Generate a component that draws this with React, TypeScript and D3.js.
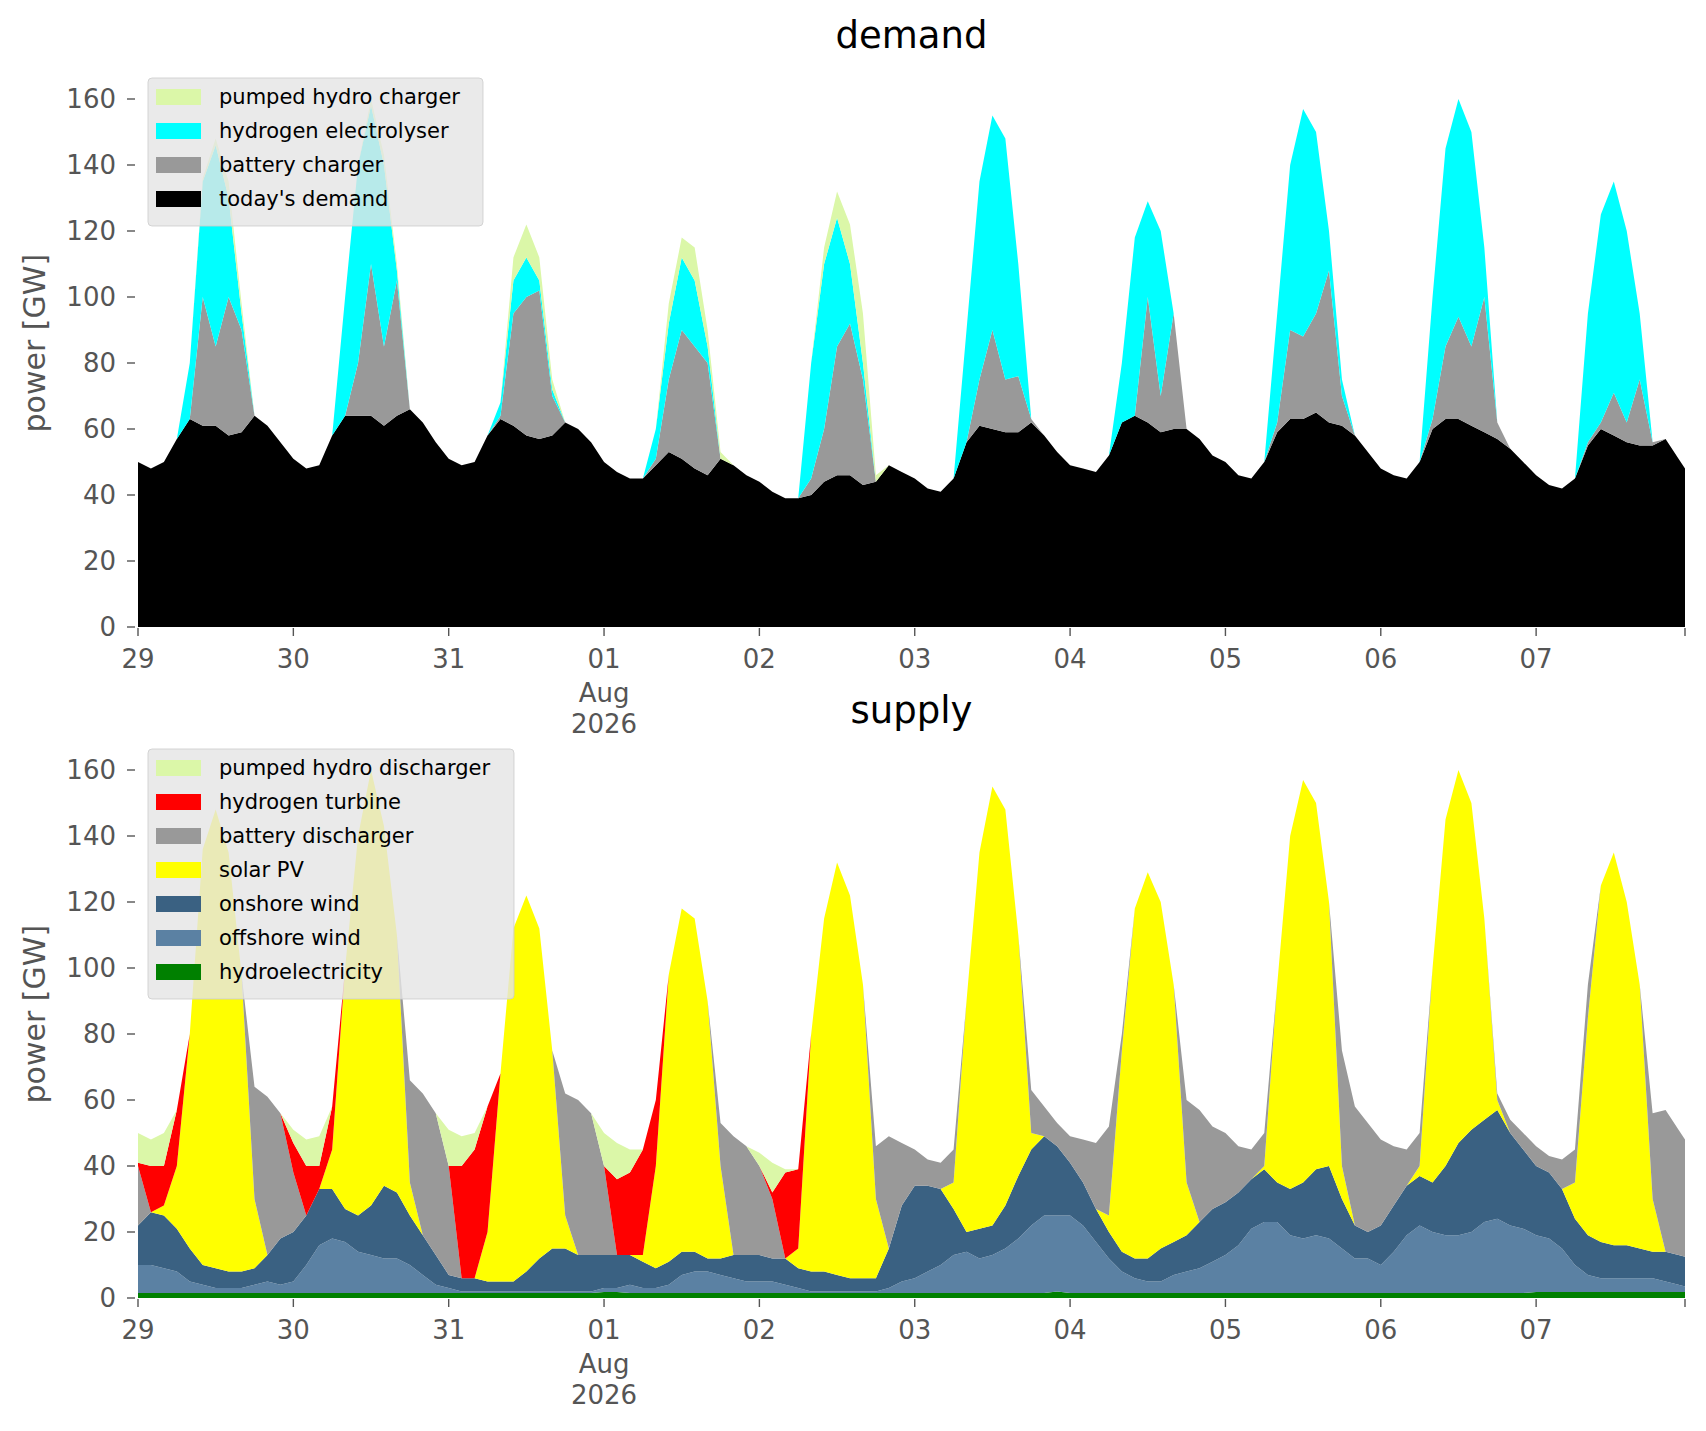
import React from "react";
import * as d3 from "d3";

// 2-hourly samples from 29 Jul 00:00 (12 per day) + one end point
const demandBase = [
  50,48,50,57,63,61,61,58,59,64,61,56,
  51,48,49,58,64,64,64,61,64,66,62,56,
  51,49,50,58,63,61,58,57,58,62,60,56,
  50,47,45,45,49,53,51,48,46,51,49,46,
  44,41,39,39,40,44,46,46,43,44,49,47,
  45,42,41,45,56,61,60,59,59,62,58,53,
  49,48,47,52,62,64,62,59,60,60,57,52,
  50,46,45,50,59,63,63,65,62,61,58,53,
  48,46,45,50,60,63,63,61,59,57,54,50,
  46,43,42,45,55,60,58,56,55,55,57,51, 45];
const batteryChargerTop = [
  50,48,50,57,63,100,85,100,90,64,61,56,
  51,48,49,58,64,80,110,85,105,66,62,56,
  51,49,50,58,64,95,100,102,70,62,60,56,
  50,47,45,45,51,75,90,85,80,51,49,46,
  44,41,39,39,45,60,85,92,75,44,49,47,
  45,42,41,45,56,75,90,75,76,63,58,53,
  49,48,47,52,62,64,100,70,95,60,57,52,
  50,46,45,50,62,90,88,95,108,70,58,53,
  48,46,45,50,63,85,94,85,100,62,54,50,
  46,43,42,45,56,62,71,62,75,56,57,51, 45];
const electrolyserTop = [
  50,48,50,57,80,135,146,130,95,64,61,56,
  51,48,49,58,100,140,158,140,108,66,62,56,
  51,49,50,58,68,105,112,105,72,62,60,56,
  50,47,45,45,60,92,112,105,85,51,49,46,
  44,41,39,39,80,110,124,110,80,44,49,47,
  45,42,41,45,90,135,155,148,110,63,58,53,
  49,48,47,52,80,118,129,120,95,60,57,52,
  50,46,45,50,95,140,157,150,120,75,58,53,
  48,46,45,50,100,145,160,150,115,62,54,50,
  46,43,42,45,95,125,135,120,95,56,57,51, 45];
const pumpedChargerTop = [
  50,48,50,57,80,136,148,135,98,64,61,56,
  51,48,49,58,100,140,160,143,110,66,62,56,
  51,49,50,58,68,112,122,112,75,62,60,56,
  50,47,45,45,60,98,118,115,90,53,49,46,
  44,41,39,39,80,115,132,122,95,46,49,47,
  45,42,41,45,90,135,155,148,110,63,58,53,
  49,48,47,52,80,118,129,120,95,60,57,52,
  50,46,45,50,95,140,157,150,120,75,58,53,
  48,46,45,50,100,145,160,150,115,62,54,50,
  46,43,42,45,95,125,135,120,95,56,57,51, 45];

const hydroTop = [
  1.5,1.5,1.5,1.5,1.5,1.5,1.5,1.5,1.5,1.5,1.5,1.5,
  1.5,1.5,1.5,1.5,1.5,1.5,1.5,1.5,1.5,1.5,1.5,1.5,
  1.5,1.5,1.5,1.5,1.5,1.5,1.5,1.5,1.5,1.5,1.5,1.5,
  1.8,1.8,1.5,1.5,1.5,1.5,1.5,1.5,1.5,1.5,1.5,1.5,
  1.5,1.5,1.5,1.5,1.5,1.5,1.5,1.5,1.5,1.5,1.5,1.5,
  1.5,1.5,1.5,1.5,1.5,1.5,1.5,1.5,1.5,1.5,1.5,2,
  1.5,1.5,1.5,1.5,1.5,1.5,1.5,1.5,1.5,1.5,1.5,1.5,
  1.5,1.5,1.5,1.5,1.5,1.5,1.5,1.5,1.5,1.5,1.5,1.5,
  1.5,1.5,1.5,1.5,1.5,1.5,1.5,1.5,1.5,1.5,1.5,1.5,
  1.8,1.8,1.8,1.8,1.8,1.8,1.8,1.8,1.8,1.8,1.8,1.8, 1.8];
const offshoreTop = [
  10,10,9,8,5,4,3,3,3,4,5,4,
  5,10,16,18,17,14,13,12,12,10,7,4,
  3,2,2,2,2,2,2,2,2,2,2,2,
  3,3,4,3,3,4,7,8,8,7,6,5,
  5,5,4,3,2,2,2,2,2,2,3,5,
  6,8,10,13,14,12,13,15,18,22,25,25,
  25,22,17,12,8,6,5,5,7,8,9,11,
  13,16,21,23,23,19,18,19,18,15,12,12,
  10,14,19,22,20,19,19,20,23,24,22,21,
  19,18,15,10,7,6,6,6,6,6,5,4, 3];
const onshoreTop = [
  22,26,25,21,15,10,9,8,8,9,13,18,
  20,25,33,33,27,25,28,34,32,25,19,13,
  7,6,6,5,5,5,8,12,15,15,13,13,
  13,13,13,11,9,11,14,14,12,12,13,13,
  13,12,12,9,8,8,7,6,6,6,15,28,
  34,34,33,27,20,21,22,28,37,45,49,46,
  41,35,27,20,14,12,12,15,17,19,23,27,
  29,32,36,39,35,33,35,39,40,30,22,20,
  22,28,34,37,35,40,47,51,54,57,50,45,
  40,38,33,24,19,17,16,16,15,14,14,13, 12];
const solarTop = [
  22,26,28,40,80,136,148,135,98,30,13,18,
  20,25,33,45,100,140,160,143,110,35,19,13,
  7,6,6,20,68,112,122,112,75,25,13,13,
  13,13,13,13,40,98,118,115,90,40,13,13,
  13,12,12,15,80,115,132,122,95,30,15,28,
  34,34,33,35,90,135,155,148,110,50,49,46,
  41,35,27,25,75,118,129,120,95,35,23,27,
  29,32,36,40,95,140,157,150,120,40,22,20,
  22,28,34,40,100,145,160,150,115,60,50,45,
  40,38,33,35,85,125,135,120,95,30,14,13, 12];
const batteryDischargerTop = [
  40,26,28,40,80,136,148,135,98,64,61,56,
  38,25,33,45,100,140,160,143,110,66,62,56,
  40,6,6,20,68,112,122,112,75,62,60,56,
  40,13,13,13,40,98,118,115,90,53,49,46,
  40,30,12,15,80,115,132,122,95,46,49,47,
  45,42,41,45,90,135,155,148,110,63,58,53,
  49,48,47,52,80,118,129,120,95,60,57,52,
  50,46,45,50,95,140,157,150,120,75,58,53,
  48,46,45,50,100,145,160,150,115,62,54,50,
  46,43,42,45,95,125,135,120,95,56,57,51, 45];
const hydrogenTurbineTop = [
  41,40,40,57,80,136,148,135,98,64,61,56,
  47,40,40,58,100,140,160,143,110,66,62,56,
  40,40,45,58,68,112,122,112,75,62,60,56,
  40,36,38,45,60,98,118,115,90,53,49,46,
  40,32,38,39,80,115,132,122,95,46,49,47,
  45,42,41,45,90,135,155,148,110,63,58,53,
  49,48,47,52,80,118,129,120,95,60,57,52,
  50,46,45,50,95,140,157,150,120,75,58,53,
  48,46,45,50,100,145,160,150,115,62,54,50,
  46,43,42,45,95,125,135,120,95,56,57,51, 45];
const pumpedDischargerTop = pumpedChargerTop;

const dayLabels = ["29","30","31","01","02","03","04","05","06","07"];
const yTicks = [0,20,40,60,80,100,120,140,160];

const demandLayers = [
  { name: "today's demand", color: "#000000", lo: null, hi: demandBase },
  { name: "battery charger", color: "#999999", lo: demandBase, hi: batteryChargerTop },
  { name: "hydrogen electrolyser", color: "#00ffff", lo: batteryChargerTop, hi: electrolyserTop },
  { name: "pumped hydro charger", color: "#dbf7a8", lo: electrolyserTop, hi: pumpedChargerTop },
];
const supplyLayers = [
  { name: "hydroelectricity", color: "#008000", lo: null, hi: hydroTop },
  { name: "offshore wind", color: "#5b81a3", lo: hydroTop, hi: offshoreTop },
  { name: "onshore wind", color: "#3a6182", lo: offshoreTop, hi: onshoreTop },
  { name: "solar PV", color: "#ffff00", lo: onshoreTop, hi: solarTop },
  { name: "battery discharger", color: "#999999", lo: solarTop, hi: batteryDischargerTop },
  { name: "hydrogen turbine", color: "#ff0000", lo: batteryDischargerTop, hi: hydrogenTurbineTop },
  { name: "pumped hydro discharger", color: "#dbf7a8", lo: hydrogenTurbineTop, hi: pumpedDischargerTop },
];

const L = 138, R = 1685;
const FONT = "DejaVu Sans";

function Panel({ title, layers, y0, legendW, idx, titleGap }: any) {
  const x = d3.scaleLinear().domain([0, 239]).range([L, R]);
  const y = d3.scaleLinear().domain([0, 170]).range([y0, y0 - 561]);
  const area = d3.area<number>().x((_, i) => x(i * 2));
  const legend = [...layers].reverse();
  const top = y0 - 561;
  return (
    <g>
      <defs>
        <clipPath id={"clip" + idx}><rect x={L} y={top} width={R - L} height={y0 - top} /></clipPath>
      </defs>
      <text x={(L + R) / 2} y={top - titleGap} textAnchor="middle" fontFamily={FONT} fontSize={37}>{title}</text>
      <g clipPath={`url(#clip${idx})`}>
        {layers.map((ly: any, k: number) => (
          <path key={k} fill={ly.color} stroke="none"
            d={area.y0((_, i) => y(ly.lo ? ly.lo[i] : 0)).y1((v) => y(v))(ly.hi) as string} />
        ))}
      </g>
      {yTicks.map((t) => (
        <g key={t}>
          <line x1={L - 11} x2={L - 3} y1={y(t)} y2={y(t)} stroke="#555" strokeWidth={1.4} />
          <text x={L - 22} y={y(t) + 9} textAnchor="end" fontFamily={FONT} fontSize={26} fill="#555">{t}</text>
        </g>
      ))}
      <text transform={`translate(45,${y(86)}) rotate(-90)`} textAnchor="middle" fontFamily={FONT} fontSize={30} fill="#555">power [GW]</text>
      {d3.range(11).map((d) => (
        <line key={d} x1={x(Math.min(d * 24, 239))} x2={x(Math.min(d * 24, 239))} y1={y0 + 1} y2={y0 + 9} stroke="#555" strokeWidth={1.4} />
      ))}
      {dayLabels.map((lab, d) => (
        <text key={lab} x={x(d * 24)} y={y0 + 41} textAnchor="middle" fontFamily={FONT} fontSize={26} fill="#555">{lab}</text>
      ))}
      <text x={x(72)} y={y0 + 75} textAnchor="middle" fontFamily={FONT} fontSize={26} fill="#555">Aug</text>
      <text x={x(72)} y={y0 + 106} textAnchor="middle" fontFamily={FONT} fontSize={26} fill="#555">2026</text>
      <g>
        <rect x={148} y={top + 12} width={legendW} height={legend.length * 34 + 12} rx={4}
          fill="#e5e5e5" fillOpacity={0.8} stroke="#cccccc" strokeOpacity={0.8} />
        {legend.map((ly: any, k: number) => (
          <g key={k}>
            <rect x={156} y={top + 23 + k * 34} width={45} height={16} fill={ly.color} />
            <text x={219} y={top + 38 + k * 34} fontFamily={FONT} fontSize={21} fill="#000">{ly.name}</text>
          </g>
        ))}
      </g>
    </g>
  );
}

export default function App() {
  return (
    <svg width={1706} height={1431} style={{ display: "block", background: "#fff", margin: -8 }}>
      <Panel title="demand" layers={demandLayers} y0={627} legendW={335} idx={0} titleGap={18} />
      <Panel title="supply" layers={supplyLayers} y0={1298} legendW={366} idx={1} titleGap={14} />
    </svg>
  );
}
